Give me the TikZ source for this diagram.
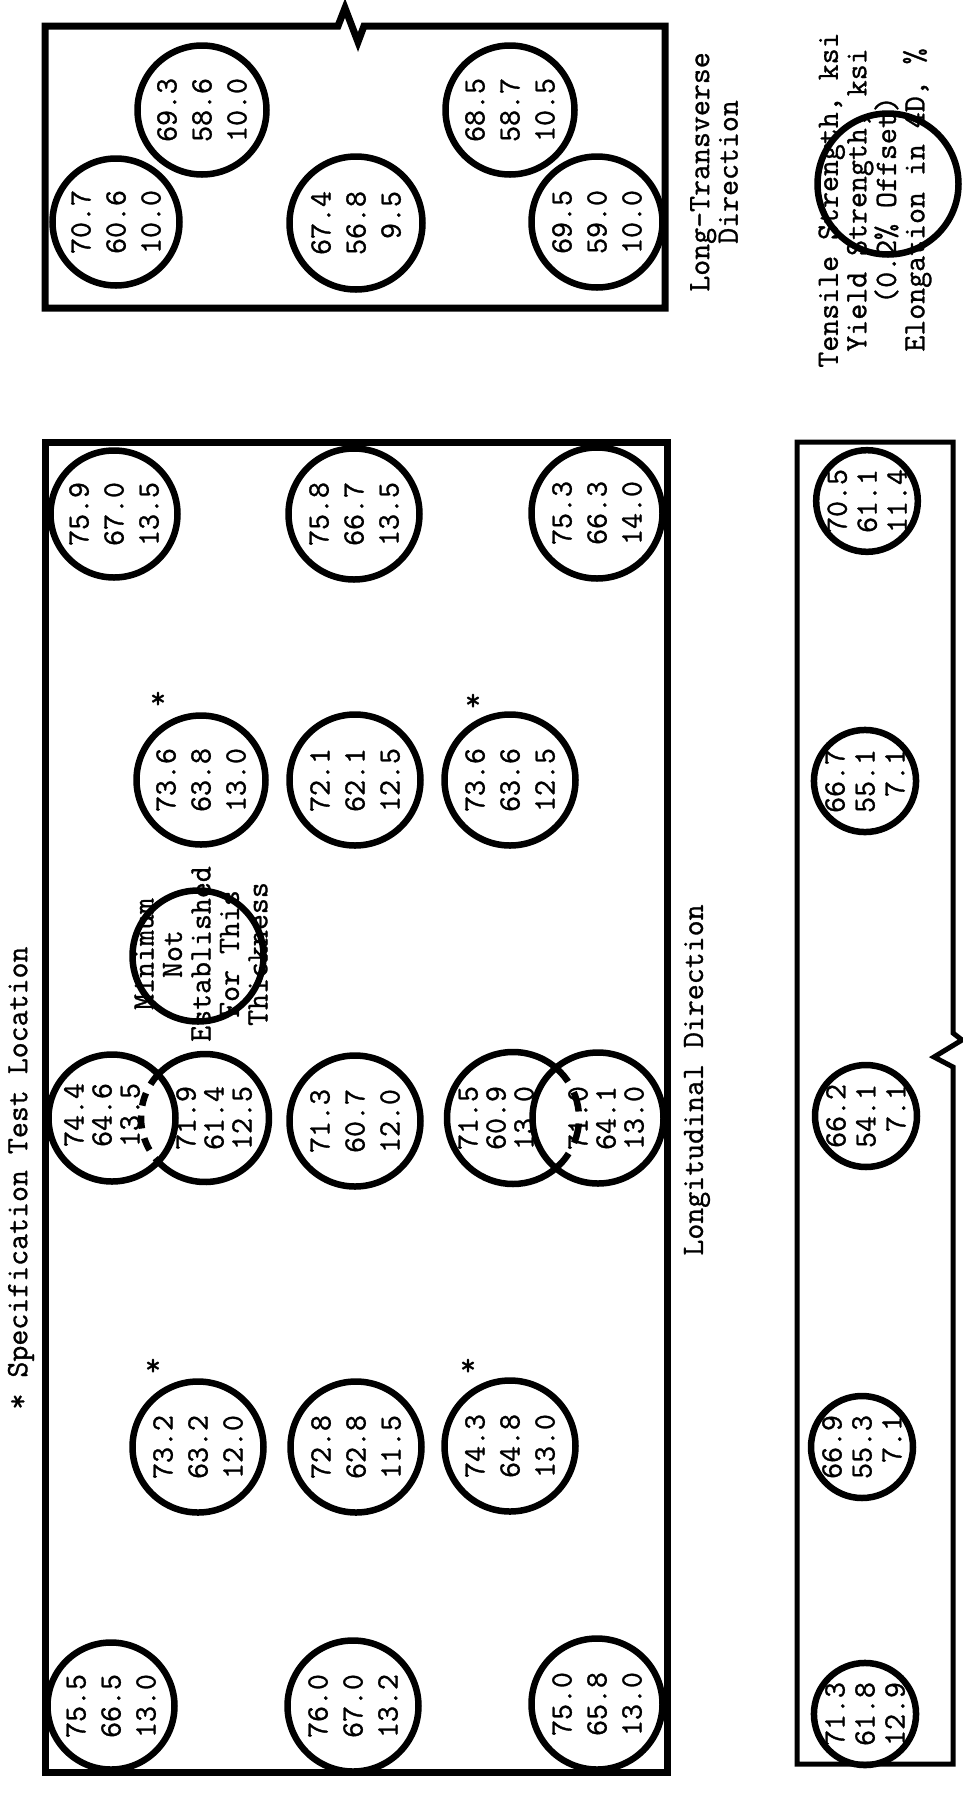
\documentclass[tikz,border=0pt]{standalone}
\usepackage{fontspec}
\setmonofont{Latin Modern Mono}[FakeBold=1]
\newcommand\numfont{\fontsize{31}{35}\selectfont\ttfamily}
\newcommand\smnumfont{\fontsize{31}{30}\selectfont\ttfamily}
\newcommand\tightnumfont{\fontsize{31}{28}\selectfont\ttfamily}
\newcommand\lblfont{\fontsize{31}{28.5}\selectfont\ttfamily}
\begin{document}
\begin{tikzpicture}[x=1pt,y=-1pt,
  ring/.style={circle, draw, line width=6.5pt, inner sep=0pt, minimum size=#1, rotate=90, align=right, font=\numfont},
  sring/.style={ring=#1, font=\smnumfont},
  hring/.style={ring=#1, draw=none},
  numtxt/.style={inner sep=0pt, rotate=90, align=right, font=\tightnumfont},
  boxline/.style={line width=7pt, line join=miter},
  sboxline/.style={line width=5pt, line join=miter},
  lbl/.style={font=\lblfont, inner sep=0pt, rotate=90, align=center},
  star/.style={font=\numfont, inner sep=0pt},
  hidden/.style={line width=6.5pt, dash pattern=on 13pt off 10pt}
]
\useasboundingbox[fill=white] (0,0) rectangle (963,1797);

% ---------- boxes ----------
\draw[boxline] (45,308) -- (45,26) -- (338,26) -- (345,8) -- (358,42) -- (364,26) -- (665,26) -- (665,308) -- cycle;
\draw[boxline] (45,442) rectangle (667,1772);
\draw[sboxline] (797,442) -- (953,442) -- (953,1033) -- (962,1040) -- (934,1057) -- (953,1067) -- (953,1764) -- (797,1764) -- cycle;

% ---------- long-transverse box ----------
\node[ring=127] (c1) at (116,222) {70.7\\60.6\\10.0};
\node[ring=129] (c2) at (202,110) {69.3\\58.6\\10.0};
\node[ring=133] (c3) at (356,223) {67.4\\56.8\\9.5};
\node[ring=129] (c4) at (510,110) {68.5\\58.7\\10.5};
\node[ring=131] (c5) at (597,222) {69.5\\59.0\\10.0};

% ---------- longitudinal box ----------
\node[ring=127] (c6) at (114,514) {75.9\\67.0\\13.5};
\node[ring=131] (c7) at (354,514) {75.8\\66.7\\13.5};
\node[ring=131] (c8) at (597,513) {75.3\\66.3\\14.0};

\node[ring=129] (c9) at (201,780) {73.6\\63.8\\13.0};
\node[ring=131] (c10) at (355,780) {72.1\\62.1\\12.5};
\node[ring=131] (c11) at (510,780) {73.6\\63.6\\12.5};
\node[star] (s9) at (158,700) {*};
\node[star] (s11) at (473,702) {*};

\node[ring=131] (c12) at (198,956) {};
\node[lbl] (mintxt) at (201,954) {Minimum\\Not\\Established\\For This\\Thickness};

\node[ring=127] (c13) at (112,1118) {};
\node[numtxt] (t13) at (102,1115) {74.4\\64.6\\13.5};
\node[hring=128] (c14) at (205,1118) {};
\node[numtxt] (t14) at (214,1118) {71.9\\61.4\\12.5};
\draw[line width=6.5pt] (c14.center) ++(-136.6:64pt) arc[start angle=-136.6, end angle=136.6, radius=64pt];
\draw[hidden] (c14.center) ++(136.6:64pt) arc[start angle=136.6, end angle=223.4, radius=64pt];
\node[ring=131] (c15) at (355,1121) {71.3\\60.7\\12.0};
\node[hring=132] (c16) at (513,1118) {};
\node[numtxt] (t16) at (496,1118) {71.5\\60.9\\13.0};
\draw[line width=6.5pt] (c16.center) ++(49.9:66pt) arc[start angle=49.9, end angle=310.1, radius=66pt];
\draw[hidden, dash pattern=on 20pt off 12pt] (c16.center) ++(-49.9:66pt) arc[start angle=-49.9, end angle=49.9, radius=66pt];
\node[ring=131] (c17) at (598,1118) {};
\node[numtxt] (t17) at (606,1118) {71.0\\64.1\\13.0};

\node[ring=131] (c18) at (198,1447) {73.2\\63.2\\12.0};
\node[ring=131] (c19) at (356,1447) {72.8\\62.8\\11.5};
\node[ring=131] (c20) at (510,1446) {74.3\\64.8\\13.0};
\node[star] (s18) at (153,1367) {*};
\node[star] (s20) at (468,1367) {*};

\node[ring=127] (c21) at (111,1706) {75.5\\66.5\\13.0};
\node[ring=131] (c22) at (353,1706) {76.0\\67.0\\13.2};
\node[ring=131] (c23) at (597,1704) {75.0\\65.8\\13.0};

% ---------- narrow box ----------
\node[sring=99] (c24) at (867,501) {70.5\\61.1\\11.4};
\node[sring=99] (c25) at (865,781) {66.7\\55.1\\7.1};
\node[sring=97] (c26) at (866,1116) {66.2\\54.1\\7.1};
\node[sring=97] (c27) at (862,1447) {66.9\\55.3\\7.1};
\node[sring=99] (c28) at (865,1714) {71.3\\61.8\\12.9};

% ---------- labels ----------
\node[lbl] (spec) at (21,1178) {* Specification Test Location};
\node[lbl] (longdir) at (697,1080) {Longitudinal Direction};
\node[lbl] (ltdir) at (714,172) {Long-Transverse\\Direction};
\node[lbl] (legend) at (875,200) {Tensile Strength, ksi\\Yield Strength, ksi\\(0.2\% Offset)\\Elongation in 4D, \%};
\node[ring=141] (legring) at (888,184) {};
\end{tikzpicture}
\end{document}
